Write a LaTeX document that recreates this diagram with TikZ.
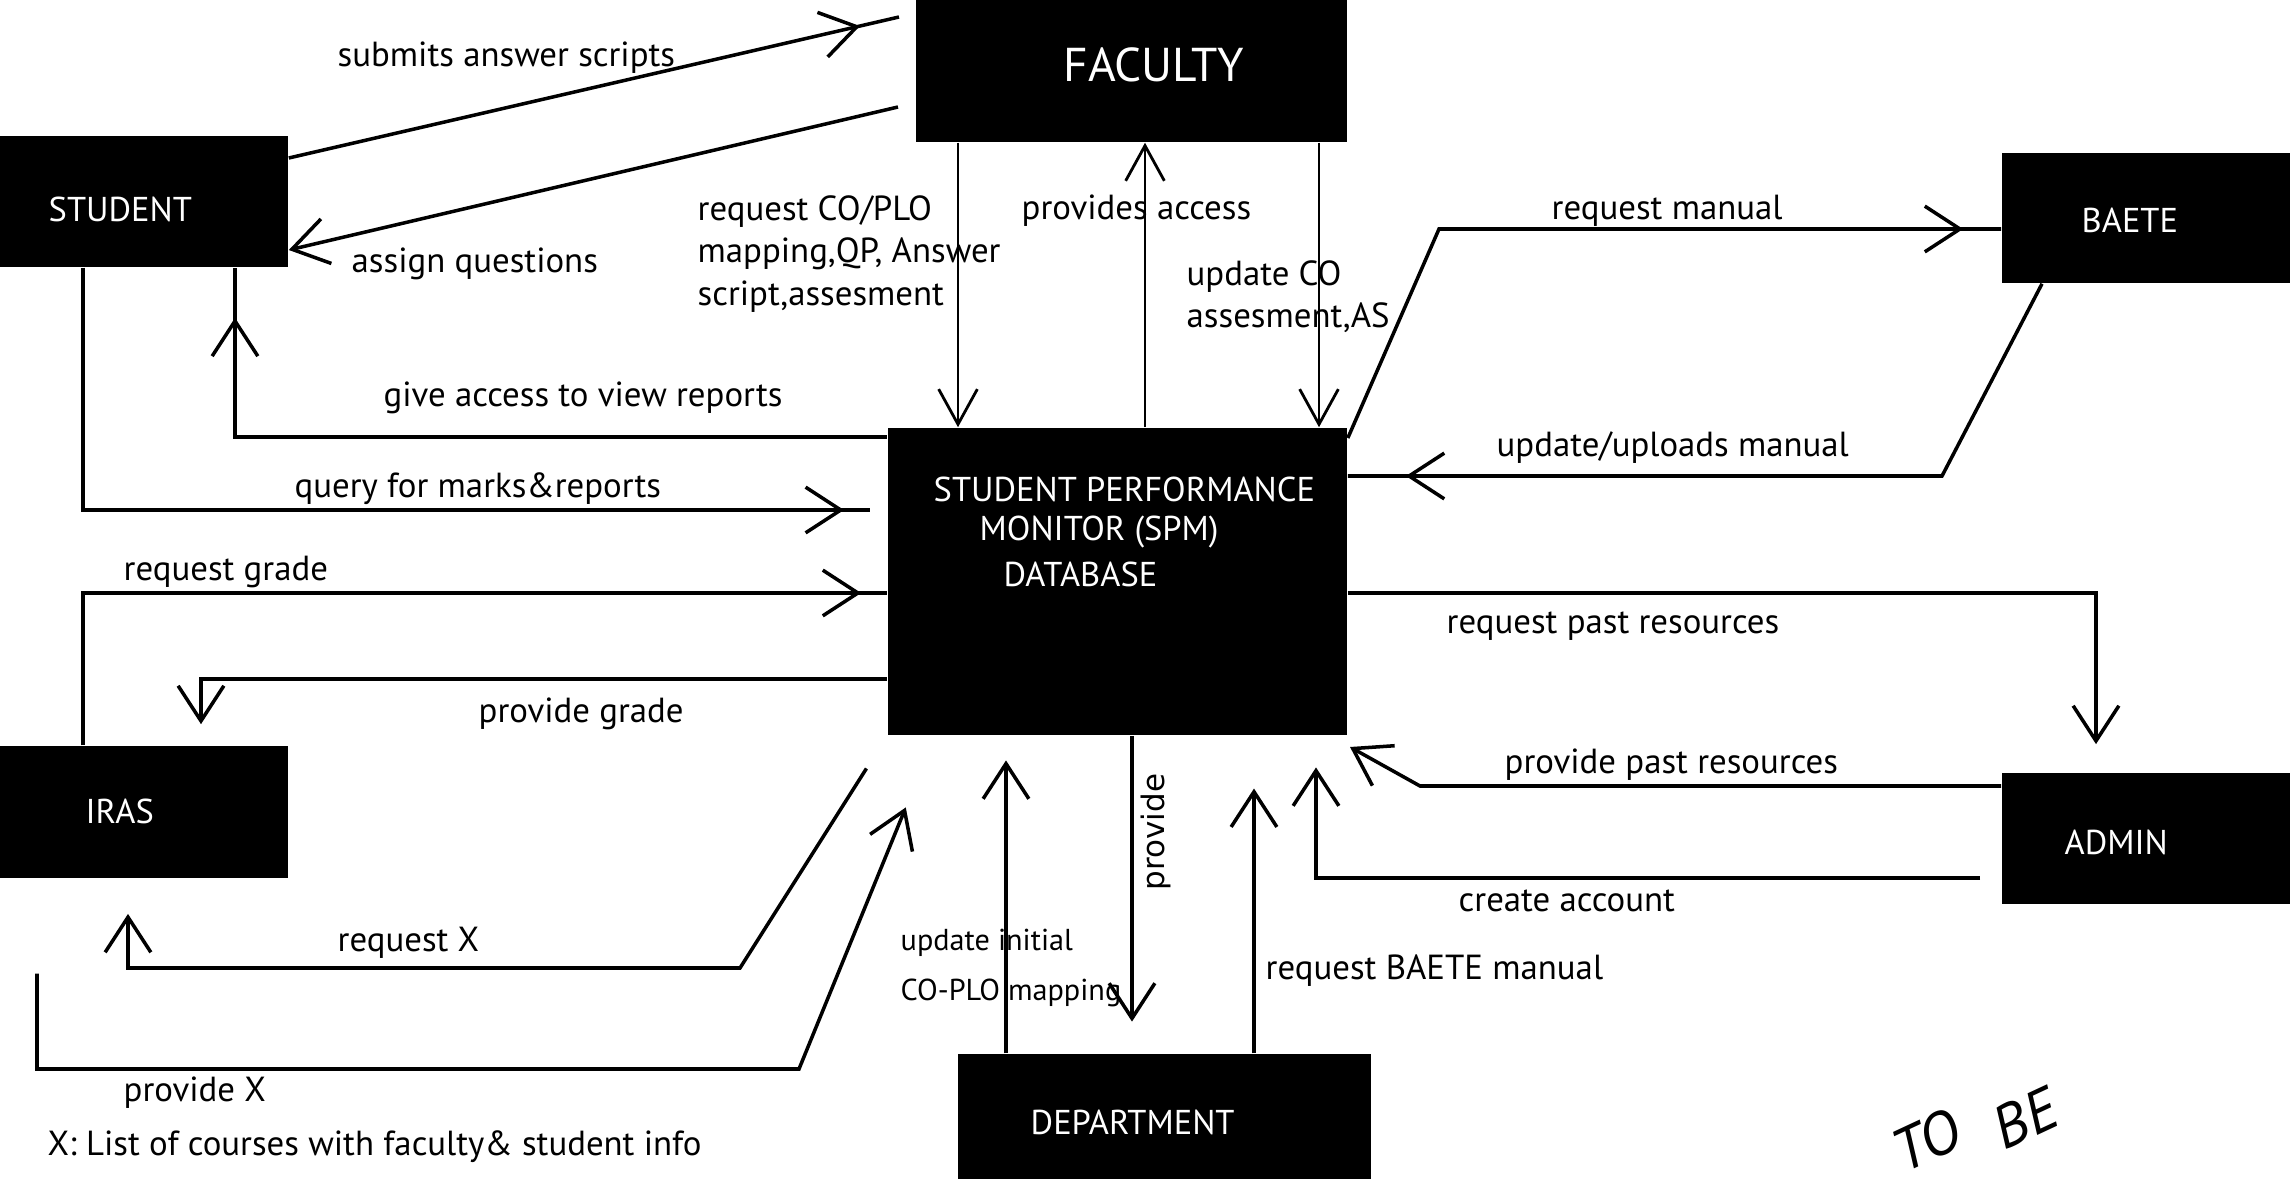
\documentclass[tikz,border=0pt]{standalone}
\usepackage{fontspec}
\setmainfont{PT Sans}
\newfontfamily\dvfont{DejaVu Sans}
\usetikzlibrary{arrows.meta,decorations.markings}
\begin{document}
\begin{tikzpicture}[x=0.01cm,y=-0.01cm,
  box/.style={fill=black,draw=none,inner sep=0,rectangle},
  boxtext/.style={text=white,inner sep=0,anchor=west,font=\fontsize{9.8}{12}\selectfont},
  lbl/.style={inner sep=0,anchor=west,font=\fontsize{9.9}{12}\selectfont,align=left},
  wire/.style={line width=1pt,line join=miter},
  conn/.style={wire,-{Straight Barb[length=10pt,width=13pt]}},
  fconn/.style={line width=0.8pt,-{Straight Barb[length=10pt,width=11pt]}},
  midtip/.style={wire,postaction={decorate},decoration={markings,mark=at position #1 with {\arrow{Straight Barb[length=10pt,width=13pt]}}}},
]
\useasboundingbox (0,0) rectangle (2290,1188);

% boxes
\node[box,minimum width=4.31cm,minimum height=1.42cm] (fac) at (1131.5,71) {};
\node[box,minimum width=2.88cm,minimum height=1.31cm] (stu) at (144,201.5) {};
\node[box,minimum width=2.88cm,minimum height=1.30cm] (baete) at (2146,218) {};
\node[box,minimum width=4.59cm,minimum height=3.07cm] (spm) at (1117.5,581.5) {};
\node[box,minimum width=2.88cm,minimum height=1.32cm] (iras) at (144,812) {};
\node[box,minimum width=2.88cm,minimum height=1.31cm] (admin) at (2146,838.5) {};
\node[box,minimum width=4.13cm,minimum height=1.25cm] (dept) at (1164.5,1116.5) {};

% box texts
\node[boxtext,font=\fontsize{13.5}{15}\selectfont] (tfac) at (1063,65) {FACULTY};
\node[boxtext] (tstu) at (48,209) {STUDENT};
\node[boxtext] (tbaete) at (2081,220) {BAETE};
\node[boxtext] (tiras) at (85,811) {IRAS};
\node[boxtext] (tadmin) at (2064,842) {ADMIN};
\node[boxtext] (tdept) at (1030,1122) {DEPARTMENT};
\node[boxtext] (tspm1) at (933,489) {STUDENT PERFORMANCE};
\node[boxtext] (tspm2) at (979,532) {MONITOR (SPM)};
\node[boxtext] (tspm3) at (1003,574) {DATABASE};

% free ends
\coordinate (c1) at (899,17);
\coordinate (c2) at (898,107);
\coordinate (c9) at (870,510);

% connectors
\draw[midtip=-0.4cm] (stu.east |- 0,158) -- (c1);
\draw[conn] (c2) -- (stu.east |- 0,250);
\draw[fconn] (958,0 |- fac.south) -- (958,0 |- spm.north);
\draw[fconn] (1145,0 |- spm.north) -- (1145,0 |- fac.south);
\draw[fconn] (1319,0 |- fac.south) -- (1319,0 |- spm.north);
\draw[midtip=-0.38cm] (spm.east |- 0,438) -- (1439,229) -- (baete.west |- 0,229);
\draw[midtip=-0.58cm] (2042,0 |- baete.south) -- (1942,476) -- (spm.east |- 0,476);
\draw[midtip=-0.5cm] (spm.west |- 0,437) -- (235,437) -- (235,0 |- stu.south);
\draw[midtip=-0.26cm] (83,0 |- stu.south) -- (83,510) -- (c9);
\draw[midtip=-0.26cm] (83,0 |- iras.north) -- (83,593) -- (spm.west |- 0,593);
\draw[conn,shorten >=6] (spm.west |- 0,679) -- (201,679) -- (201,0 |- iras.north);
\draw[conn,shorten <=11,shorten >=10] (spm.south west) -- (740,968) -- (128,968) -- (128,0 |- iras.south);
\draw[conn,shorten <=27,shorten >=22] (37,0 |- iras.south) -- (37,1069) -- (799,1069) -- (935,0 |- spm.south);
\draw[conn,shorten >=7] (1006,0 |- dept.north) -- (1006,0 |- spm.south);
\draw[conn,shorten >=9] (1132,0 |- spm.south) -- (1132,0 |- dept.north);
\draw[conn,shorten >=15] (1254,0 |- dept.north) -- (1254,0 |- spm.south);
\draw[conn,shorten >=8] (spm.east |- 0,593) -- (2096,593) -- (2096,0 |- admin.north);
\draw[conn] (admin.west |- 0,786) -- (1420,786) -- (1350,747);
\draw[conn,shorten <=6,shorten >=9] (admin.west |- 0,878) -- (1316,878) -- (1316,0 |- spm.south);

% labels
\node[lbl] (l1) at (337,58) {submits answer scripts};
\node[lbl] (l2) at (351,264) {assign questions};
\node[lbl] (l3) at (697,254) {request CO/PLO\\mapping,QP, Answer\\script,assesment};
\node[lbl] (l4) at (1021,211) {provides access};
\node[lbl] (l5) at (1186,297) {update CO\\assesment,AS};
\node[lbl] (l6) at (1551,211) {request manual};
\node[lbl] (l7) at (1496,448) {update/uploads manual};
\node[lbl] (l8) at (383,398) {give access to view reports};
\node[lbl] (l9) at (294,489) {query for marks\&reports};
\node[lbl] (l10) at (123,572) {request grade};
\node[lbl] (l11) at (478,714) {provide grade};
\node[lbl] (l12) at (337,943) {request X};
\node[lbl] (l13) at (123,1093) {provide X};
\node[lbl] (l14) at (47,1147) {X: List of courses with faculty\& student info};
\node[lbl,font=\fontsize{8.6}{14.2}\selectfont] (l15) at (900,968) {update initial\\CO-PLO mapping};
\node[inner sep=0,rotate=90,font=\dvfont\fontsize{8.8}{10}\selectfont] (l16) at (1156,832) {provide};
\node[lbl] (l17) at (1265,971) {request BAETE manual};
\node[lbl] (l18) at (1446,626) {request past resources};
\node[lbl] (l19) at (1504,765) {provide past resources};
\node[lbl] (l20) at (1458,901) {create account};
\node[inner sep=0,rotate=25,font=\itshape\fontsize{17}{18}\selectfont] (tobe1) at (1926,1140) {TO};
\node[inner sep=0,rotate=25,font=\itshape\fontsize{17}{18}\selectfont] (tobe2) at (2025,1118) {BE};
\end{tikzpicture}
\end{document}
